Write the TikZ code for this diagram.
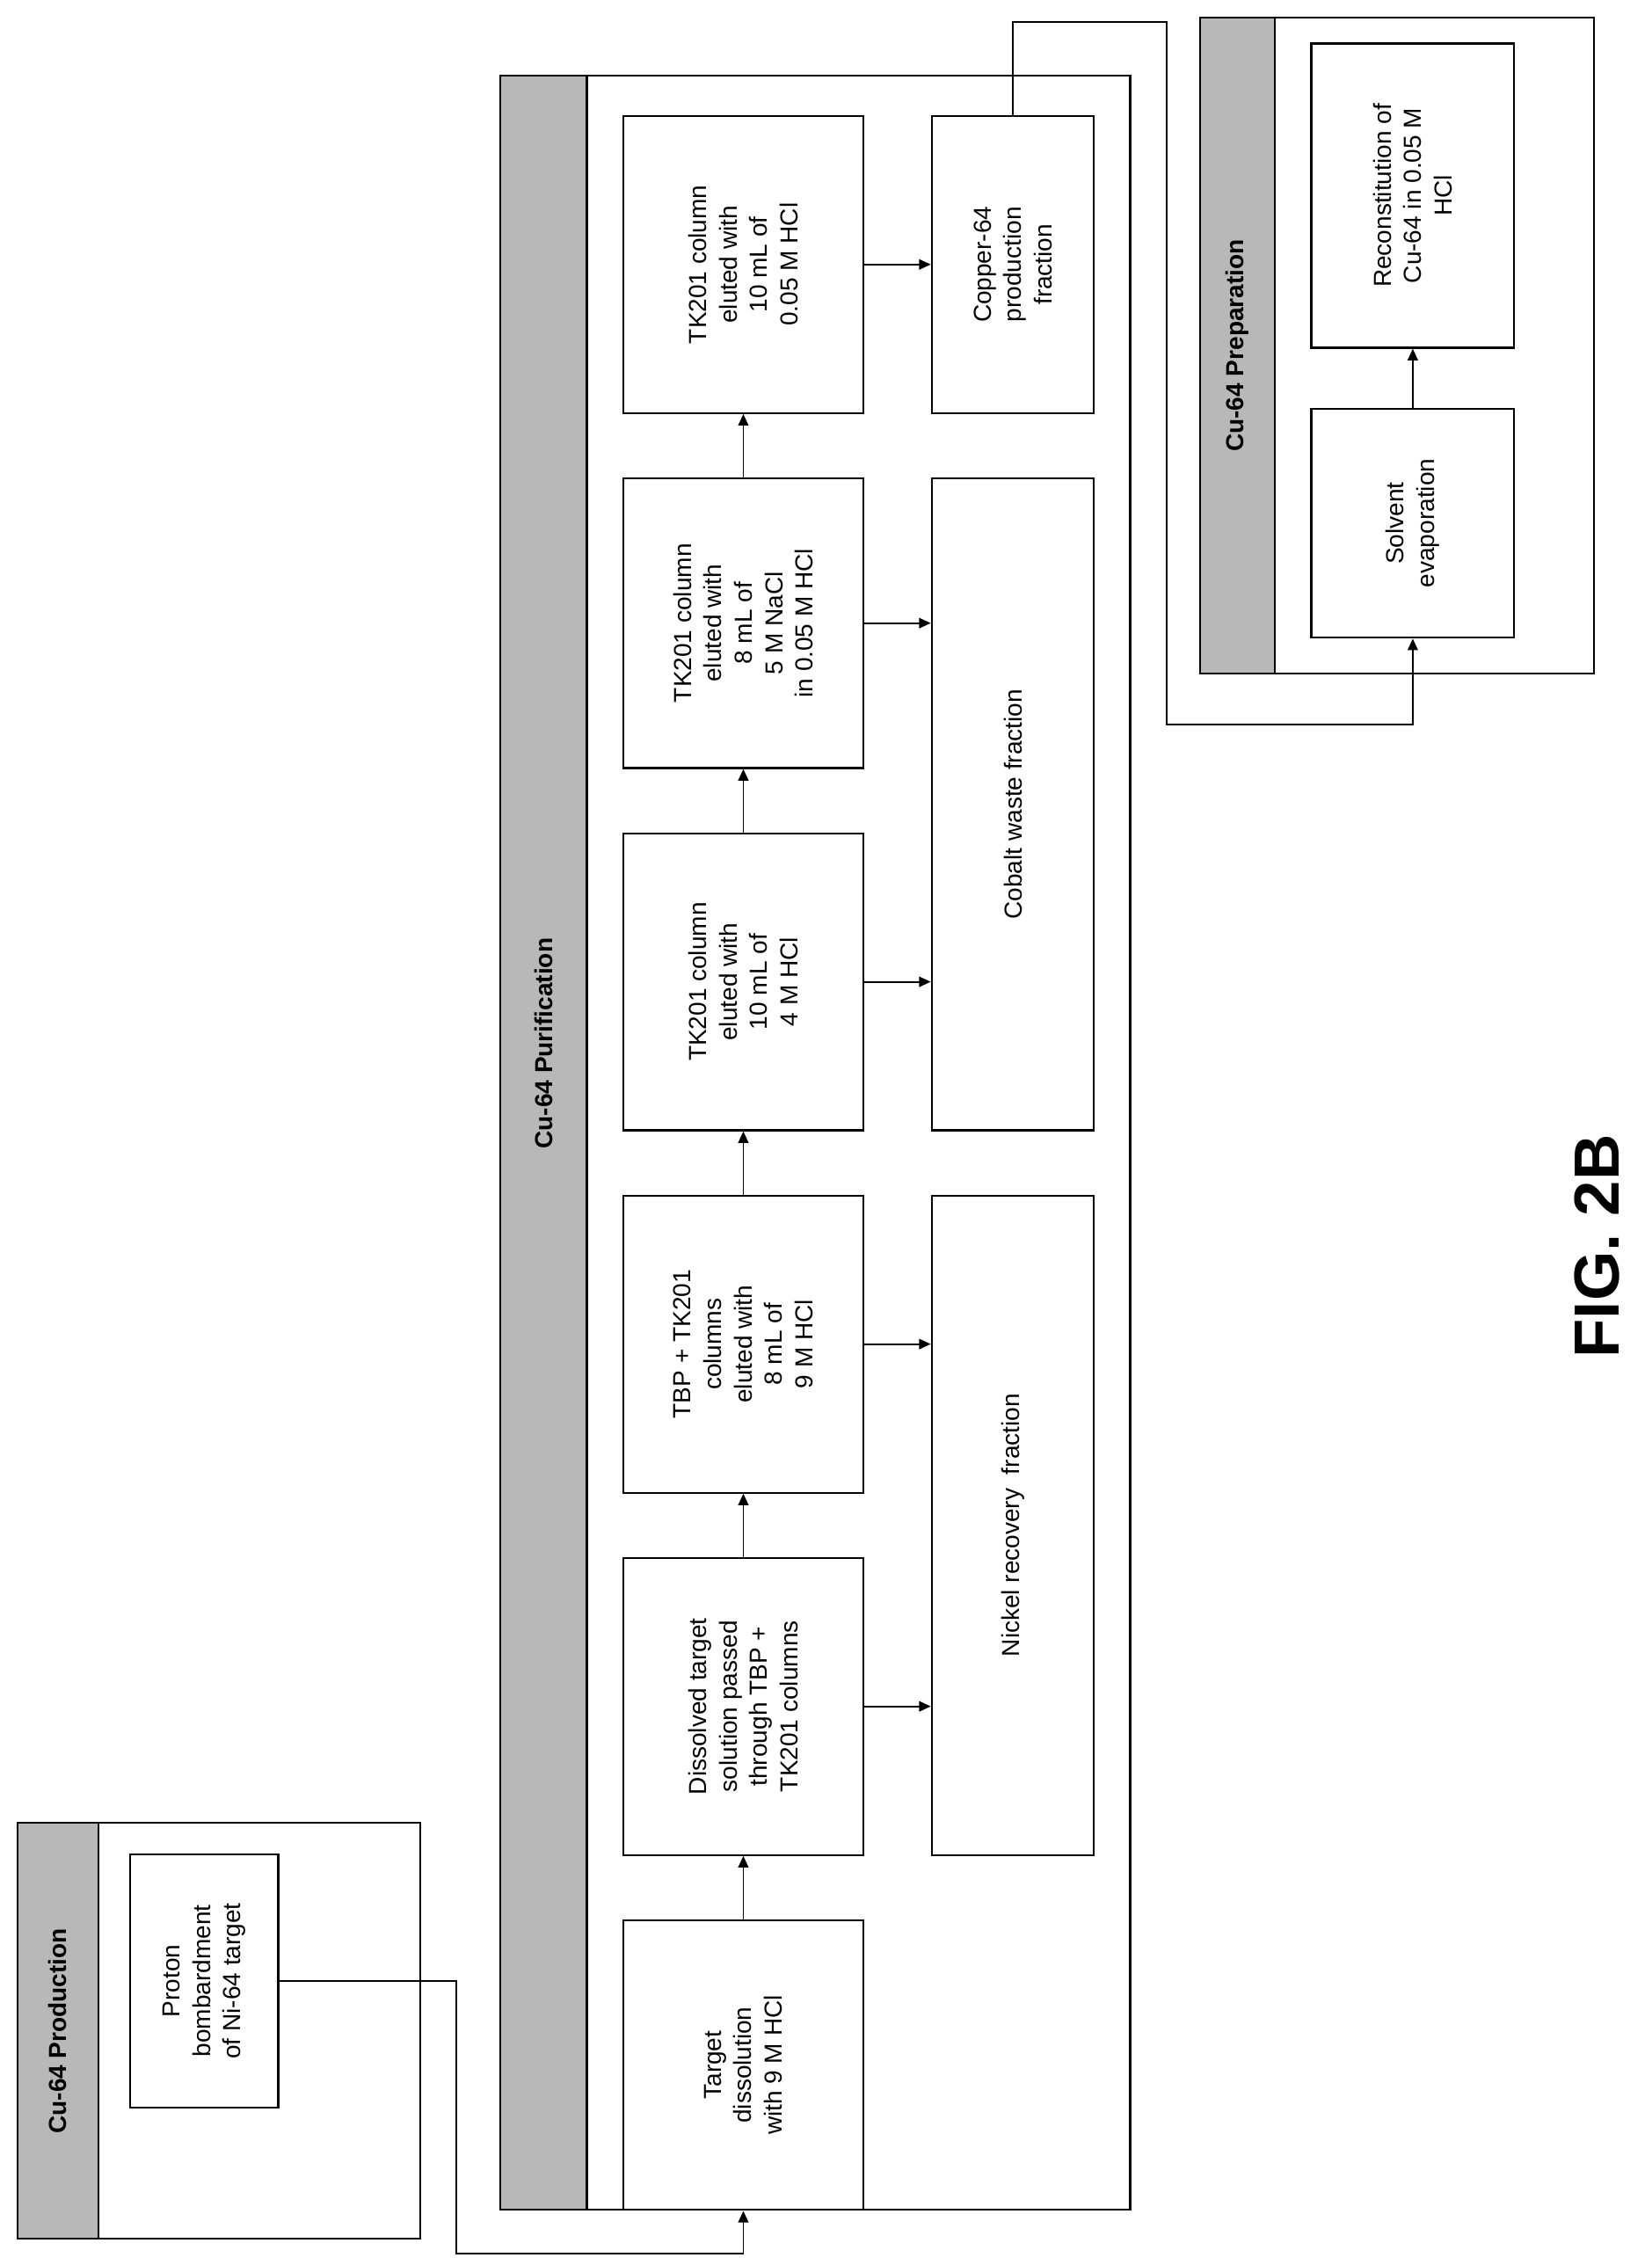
\documentclass[tikz,border=0pt]{standalone}
\usepackage{fontspec}
\setmainfont{Liberation Sans}
\usetikzlibrary{arrows.meta}
\begin{document}
\begin{tikzpicture}[x=1pt,y=-1pt,
  box/.style={draw,line width=1.3pt,inner sep=0pt},
  grp/.style={draw,line width=1.3pt,inner sep=0pt},
  hdr/.style={draw,line width=1.3pt,fill=black!28,inner sep=0pt},
  txt/.style={rotate=90,align=center,font=\fontsize{17}{21}\selectfont},
  htxt/.style={rotate=90,font=\fontsize{17}{21}\selectfont\bfseries},
  arr/.style={line width=1.2pt,-{Triangle[length=8pt,width=7pt]}}]
\useasboundingbox (0,0) rectangle (1140,1563);
% groups
\node[grp,minimum width=278pt,minimum height=287pt] (g1) at (151,1401.5) {};
\node[hdr,minimum width=56pt,minimum height=287pt] (h1) at (40,1401.5) {};
\node[htxt] at (h1) {Cu-64 Production};
\node[grp,minimum width=435pt,minimum height=1473pt] (g2) at (562.5,788.5) {};
\node[hdr,minimum width=60pt,minimum height=1473pt] (h2) at (375,788.5) {};
\node[htxt] at (375,720) {Cu-64 Purification};
\node[grp,minimum width=272pt,minimum height=453pt] (g3) at (964,238.5) {};
\node[hdr,minimum width=52pt,minimum height=453pt] (h3) at (854,238.5) {};
\node[htxt] at (h3) {Cu-64 Preparation};
% boxes
\node[box,minimum width=102pt,minimum height=175pt] (Proton) at (141,1367) {};
\node[txt] at (Proton) {Proton\\bombardment\\of Ni-64 target};
\node[box,minimum width=166pt,minimum height=200pt] (Target) at (513,1425) {};
\node[txt] at (Target) {Target\\dissolution\\with 9 M HCl};
\node[box,minimum width=166pt,minimum height=205pt] (Diss) at (513,1177.5) {};
\node[txt] at (Diss) {Dissolved target\\solution passed\\through TBP +\\TK201 columns};
\node[box,minimum width=166pt,minimum height=205pt] (TBP) at (513,927.5) {};
\node[txt] at (TBP) {TBP + TK201\\columns\\eluted with\\8 mL of\\9 M HCl};
\node[box,minimum width=166pt,minimum height=205pt] (FourM) at (513,677.5) {};
\node[txt] at (FourM) {TK201 column\\eluted with\\10 mL of\\4 M HCl};
\node[box,minimum width=166pt,minimum height=200pt] (NaCl) at (513,430) {};
\node[txt] at (NaCl) {TK201 column\\eluted with\\8 mL of\\5 M NaCl\\in 0.05 M HCl};
\node[box,minimum width=166pt,minimum height=205pt] (Last) at (513,182.5) {};
\node[txt] at (Last) {TK201 column\\eluted with\\10 mL of\\0.05 M HCl};
\node[box,minimum width=112pt,minimum height=455pt] (Nickel) at (699,1052.5) {};
\node[txt] at (Nickel) {Nickel recovery\ \ fraction};
\node[box,minimum width=112pt,minimum height=450pt] (Cobalt) at (699,555) {};
\node[txt] at (Cobalt) {Cobalt waste fraction};
\node[box,minimum width=112pt,minimum height=205pt] (Copper) at (699,182.5) {};
\node[txt] at (Copper) {Copper-64\\production\\fraction};
\node[box,minimum width=140pt,minimum height=158pt] (Solvent) at (975,361) {};
\node[txt] at (Solvent) {Solvent\\evaporation};
\node[box,minimum width=140pt,minimum height=210pt] (Recon) at (975,135) {};
\node[txt] at (Recon) {Reconstitution of\\Cu-64 in 0.05 M\\HCl};
\node[rotate=90,font=\fontsize{44}{50}\selectfont\bfseries] (fig) at (1102,860) {FIG. 2B};
% arrows
\draw[arr] (Target.north) -- (Diss.south);
\draw[arr] (Diss.north) -- (TBP.south);
\draw[arr] (TBP.north) -- (FourM.south);
\draw[arr] (FourM.north) -- (NaCl.south);
\draw[arr] (NaCl.north) -- (Last.south);
\draw[arr] (Diss.east) -- (Diss.east -| Nickel.west);
\draw[arr] (TBP.east) -- (TBP.east -| Nickel.west);
\draw[arr] (FourM.east) -- (FourM.east -| Cobalt.west);
\draw[arr] (NaCl.east) -- (NaCl.east -| Cobalt.west);
\draw[arr] (Last.east) -- (Last.east -| Copper.west);
\draw[arr] (Solvent.north) -- (Recon.south);
\coordinate (c1) at (315,1555);
\draw[arr] (Proton.east) -| (c1) -| (Target.south);
\coordinate (c2) at (805,15);
\coordinate (c3) at (805,500);
\draw[arr] (Copper.north) |- (c2) -- (c3) -| (Solvent.south);
\end{tikzpicture}
\end{document}
